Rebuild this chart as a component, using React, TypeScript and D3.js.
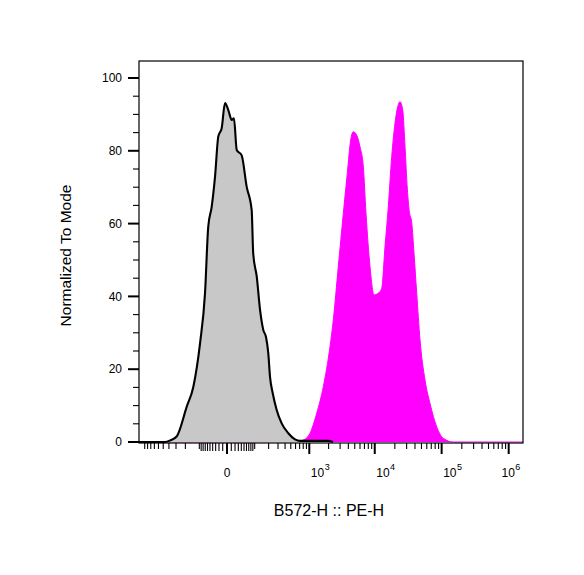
import React from "react";
import * as d3 from "d3";

// Grey (unstained / control) histogram: fluorescence value, % of mode
const greyX = [-1230, -467, -383, -292, -188, -137, -96, -71, -57, -43.6, -32, -22, -12.6, -4.5, 2.9, 11, 17, 25, 41, 61, 84, 92, 112, 133, 156, 177, 197, 213, 240, 284, 349, 454, 588, 710, 1958, 2337];
const greyY = [0, 0, 0.4, 1.5, 9.7, 15.2, 27.1, 40.9, 59.1, 64.6, 72.9, 83.9, 86.2, 93.1, 91.2, 88.5, 88.9, 80.2, 78.8, 70.1, 63.7, 51.8, 45.4, 36.3, 30.8, 28.9, 24.4, 17.9, 13.4, 8.8, 5.1, 2.4, 0.7, 0.3, 0.3, 0];

// Magenta (stained) histogram
const magX = [-1230, 588, 803, 1026, 1308, 1657, 2102, 2362, 2816, 3358, 3859, 4344, 4757, 5353, 6004, 6735, 7390, 8487, 9747, 11310, 12713, 14250, 15965, 17955, 20110, 22070, 23890, 26220, 28390, 30730, 32900, 35750, 38700, 42450, 47590, 56480, 67040, 84360, 105900, 149400, 1635000];
const magY = [0, 0.1, 0.55, 2.4, 7.9, 15.2, 26.2, 33.5, 48.2, 62.8, 73.8, 83.0, 85.2, 84.3, 81.1, 75.6, 62.8, 48.2, 40.4, 40.9, 42.2, 53.7, 64.6, 78.4, 87.6, 92.1, 93.5, 91.2, 81.1, 69.5, 63.3, 60.3, 51.8, 40.9, 28.0, 17.0, 10.6, 4.2, 1.0, 0, 0];

// Axis ticks
const xMajorValues = [0, 1e3, 1e4, 1e5, 1e6];
const xMajorLabels = ["0", "10^3", "10^4", "10^5", "10^6"];
const yMajorValues = [0, 20, 40, 60, 80, 100];
const yMajorLabels = ["0", "20", "40", "60", "80", "100"];

const xTitle = "B572-H :: PE-H";
const yTitle = "Normalized To Mode";

const W = 584;
const H = 575;
const L = 139, R = 523, T = 61, B = 442;
const FONT = "'Liberation Sans', Arial, Helvetica, sans-serif";

export default function App() {
  const x = d3.scaleSymlog().constant(63).domain([-1230, 1635000]).range([L, R]);
  const y = d3.scaleLinear().domain([0, 104.67]).range([B, T]);

  const grey = greyX.map((v, i) => [v, greyY[i]] as [number, number]);
  const mag = magX.map((v, i) => [v, magY[i]] as [number, number]);

  const area = d3.area<[number, number]>()
    .x(d => x(d[0]))
    .y0(y(0))
    .y1(d => y(d[1]))
    .curve(d3.curveMonotoneX);
  const line = d3.line<[number, number]>()
    .x(d => x(d[0]))
    .y(d => y(d[1]))
    .curve(d3.curveMonotoneX);

  // minor ticks
  const xMinor: number[] = [];
  for (let k = 1; k <= 10; k++) xMinor.push(-100 * k);
  for (let k = 1; k <= 9; k++) { xMinor.push(-10 * k); xMinor.push(10 * k); }
  for (let e = 2; e <= 5; e++) for (let m = 1; m <= 9; m++) {
    const v = m * Math.pow(10, e);
    if (!xMajorValues.includes(v)) xMinor.push(v);
  }
  const yMinor: number[] = [];
  for (let v = 5; v <= 100; v += 5) if (v % 20 !== 0) yMinor.push(v);

  const frameBottom = B + 1;

  return (
    <svg width={W} height={H} style={{ position: "absolute", left: 0, top: 0, background: "#fff" }} fontFamily={FONT}>
      <rect x={0} y={0} width={W} height={H} fill="#fff" />
      <path d={area(mag) || ""} fill="#ff00ff" />
      <path d={line(mag) || ""} fill="none" stroke="#ff00ff" strokeWidth={1} />
      <path d={area(grey) || ""} fill="#c8c8c8" />
      <path d={line(grey) || ""} fill="none" stroke="#000" strokeWidth={2.1} strokeLinejoin="round" />

      <rect x={L} y={T} width={R - L} height={frameBottom - T} fill="none" stroke="#000" strokeWidth={1.2} />

      {/* Y ticks */}
      {yMinor.map(v => (
        <line key={"ym" + v} x1={L - 6} x2={L} y1={y(v)} y2={y(v)} stroke="#000" strokeWidth={1.1} />
      ))}
      {yMajorValues.map((v, i) => (
        <g key={"yM" + v}>
          <line x1={L - 11} x2={L} y1={y(v)} y2={y(v)} stroke="#000" strokeWidth={2} />
          <text x={L - 17} y={y(v) + 4.3} fontSize={12} textAnchor="end" fill="#000">{yMajorLabels[i]}</text>
        </g>
      ))}

      {/* X ticks */}
      {xMinor.map(v => (
        <line key={"xm" + v} x1={x(v)} x2={x(v)} y1={frameBottom} y2={frameBottom + (Math.abs(v) < 100 ? 8 : 6)} stroke="#000" strokeWidth={1.1} />
      ))}
      {xMajorValues.map((v, i) => {
        const lab = xMajorLabels[i];
        const tx = x(v);
        if (!lab.includes("^")) {
          return (
            <g key={"xM" + v}>
              <line x1={tx} x2={tx} y1={frameBottom} y2={frameBottom + 11} stroke="#000" strokeWidth={2} />
              <text x={tx} y={477} fontSize={12} textAnchor="middle" fill="#000">{lab}</text>
            </g>
          );
        }
        const [base, exp] = lab.split("^");
        const labelW = 17.5;
        const lx = Math.min(tx + 1.5, R - 4 - labelW);
        return (
          <g key={"xM" + v}>
            <line x1={tx} x2={tx} y1={frameBottom} y2={frameBottom + 11} stroke="#000" strokeWidth={2} />
            <text x={lx} y={477} fontSize={12} fill="#000">
              {base}
              <tspan fontSize={9} dy={-7} dx={0.5}>{exp}</tspan>
            </text>
          </g>
        );
      })}

      <text x={329} y={515.5} fontSize={16} textAnchor="middle" fill="#000">{xTitle}</text>
      <text transform={`translate(71,255.5) rotate(-90)`} fontSize={15.5} textAnchor="middle" fill="#000">{yTitle}</text>
    </svg>
  );
}
